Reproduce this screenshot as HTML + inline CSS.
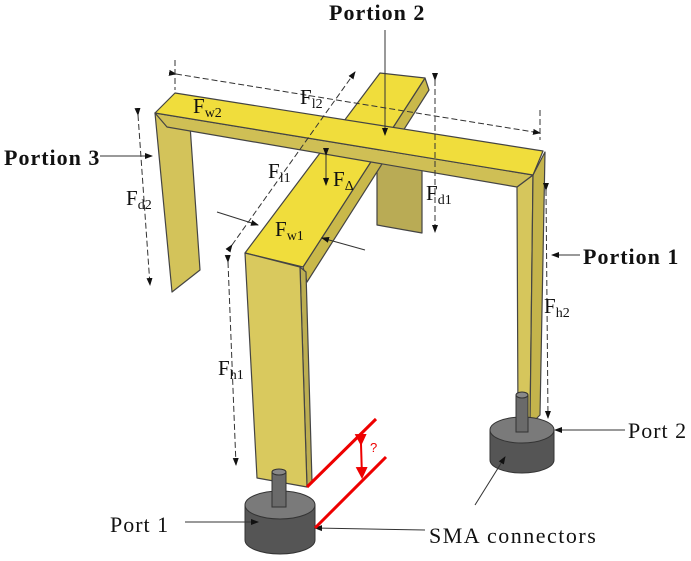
<!DOCTYPE html>
<html><head><meta charset="utf-8"><style>
html,body{margin:0;padding:0;background:#fff}
svg{display:block}
text{font-family:"Liberation Serif",serif;fill:#111}
.b{font-weight:bold;font-size:22px;letter-spacing:1px}
.p{font-size:22px;letter-spacing:1px}
.f{font-size:21px}
.s{font-size:14px}
</style></head><body>
<svg width="691" height="561" viewBox="0 0 691 561" xmlns="http://www.w3.org/2000/svg">
<defs><marker id="a" markerWidth="8" markerHeight="8" refX="7" refY="4" orient="auto"><path d="M0,1 L8,4 L0,7z" fill="#111"/></marker>
<marker id="r" markerWidth="6" markerHeight="6" refX="5" refY="3" orient="auto"><path d="M0,0 L6,3 L0,6z" fill="#e00"/></marker></defs>
<g stroke="#444" stroke-width="1.2" stroke-linejoin="round">
<polygon points="377,160 422,165 422,233 377,225" fill="#b9ab55"/>
<polygon points="425,78 429,90 307,282 303,267" fill="#c9b84a"/>
<polygon points="380,73 425,78 303,267 245,253" fill="#f0dd3c"/>
<polygon points="300,267 306,272 312,482 307,487" fill="#bcae52"/>
<polygon points="245,253 300,267 307,487 257,478" fill="#d9c95e"/>
<polygon points="155,113 190,125 200,270 172,292" fill="#d3c35a"/>
<polygon points="517,187 533,175 530,425 518,422" fill="#d6c65c"/>
<polygon points="533,175 545,152 540,415 530,425" fill="#c4b44c"/>
<polygon points="155,113 533,175 517,187 167,127" fill="#cfbf55"/>
<polygon points="155,113 175,93 543,151 533,175" fill="#f0dd3c"/>
</g>
<g stroke="#333" stroke-width="1">
<path d="M245,505 L245,540 A35,14 0 0 0 315,540 L315,505z" fill="#555"/>
<ellipse cx="280" cy="505" rx="35" ry="14" fill="#7a7a7a"/>
<rect x="272" y="472" width="14" height="35" fill="#6a6a6a"/>
<ellipse cx="279" cy="472" rx="7" ry="3" fill="#888"/>
<path d="M490,430 L490,460 A32,13 0 0 0 554,460 L554,430z" fill="#555"/>
<ellipse cx="522" cy="430" rx="32" ry="13" fill="#7a7a7a"/>
<rect x="516" y="395" width="12" height="37" fill="#6a6a6a"/>
<ellipse cx="522" cy="395" rx="6" ry="3" fill="#888"/>
</g>
<g stroke="#333" stroke-width="1" fill="none" stroke-dasharray="6,3">
<line x1="176" y1="74" x2="540" y2="133" marker-start="url(#a)" marker-end="url(#a)"/>
<line x1="175" y1="60" x2="175" y2="90"/>
<line x1="540" y1="110" x2="540" y2="140"/>
<line x1="435" y1="80" x2="435" y2="232" marker-start="url(#a)" marker-end="url(#a)"/>
<line x1="138" y1="115" x2="150" y2="285" marker-start="url(#a)" marker-end="url(#a)"/>
<line x1="228" y1="262" x2="236" y2="465" marker-start="url(#a)" marker-end="url(#a)"/>
<line x1="546" y1="190" x2="548" y2="418" marker-start="url(#a)" marker-end="url(#a)"/>
<line x1="232" y1="245" x2="355" y2="72" marker-start="url(#a)" marker-end="url(#a)"/>
</g>
<g stroke="#333" stroke-width="1" fill="none">
<line x1="385" y1="30" x2="385" y2="135" marker-end="url(#a)"/>
<line x1="100" y1="156" x2="152" y2="156" marker-end="url(#a)"/>
<line x1="580" y1="255" x2="552" y2="255" marker-end="url(#a)"/>
<line x1="625" y1="430" x2="555" y2="430" marker-end="url(#a)"/>
<line x1="185" y1="522" x2="258" y2="522" marker-end="url(#a)"/>
<line x1="425" y1="530" x2="315" y2="528" marker-end="url(#a)"/>
<line x1="475" y1="505" x2="505" y2="457" marker-end="url(#a)"/>
<line x1="217" y1="212" x2="258" y2="225" marker-end="url(#a)"/>
<line x1="365" y1="250" x2="322" y2="238" marker-end="url(#a)"/>
<line x1="326" y1="155" x2="326" y2="185" marker-start="url(#a)" marker-end="url(#a)"/>
</g>
<g stroke="#ee0000" stroke-width="3" fill="none">
<line x1="307" y1="487" x2="376" y2="419"/>
<line x1="315" y1="528" x2="386" y2="457"/>
</g>
<line x1="361" y1="444" x2="362" y2="477" stroke="#ee0000" stroke-width="2" marker-start="url(#r)" marker-end="url(#r)"/>
<text x="370" y="452" style="fill:#e00;font-family:'Liberation Sans',sans-serif;font-size:13px">?</text>
<text class="b" x="329" y="20">Portion 2</text>
<text class="b" x="4" y="165">Portion 3</text>
<text class="b" x="583" y="264">Portion 1</text>
<text class="p" x="628" y="438">Port 2</text>
<text class="p" x="110" y="532">Port 1</text>
<text class="p" x="429" y="543" style="letter-spacing:1.5px">SMA connectors</text>
<text class="f" x="193" y="113">F<tspan class="s" dy="4">w2</tspan></text>
<text class="f" x="300" y="104">F<tspan class="s" dy="4">l2</tspan></text>
<text class="f" x="268" y="178">F<tspan class="s" dy="4">l1</tspan></text>
<text class="f" x="333" y="186">F<tspan class="s" dy="4">Δ</tspan></text>
<text class="f" x="426" y="200">F<tspan class="s" dy="4">d1</tspan></text>
<text class="f" x="126" y="205">F<tspan class="s" dy="4">d2</tspan></text>
<text class="f" x="275" y="236">F<tspan class="s" dy="4">w1</tspan></text>
<text class="f" x="218" y="375">F<tspan class="s" dy="4">h1</tspan></text>
<text class="f" x="544" y="313">F<tspan class="s" dy="4">h2</tspan></text>
</svg>
</body></html>
